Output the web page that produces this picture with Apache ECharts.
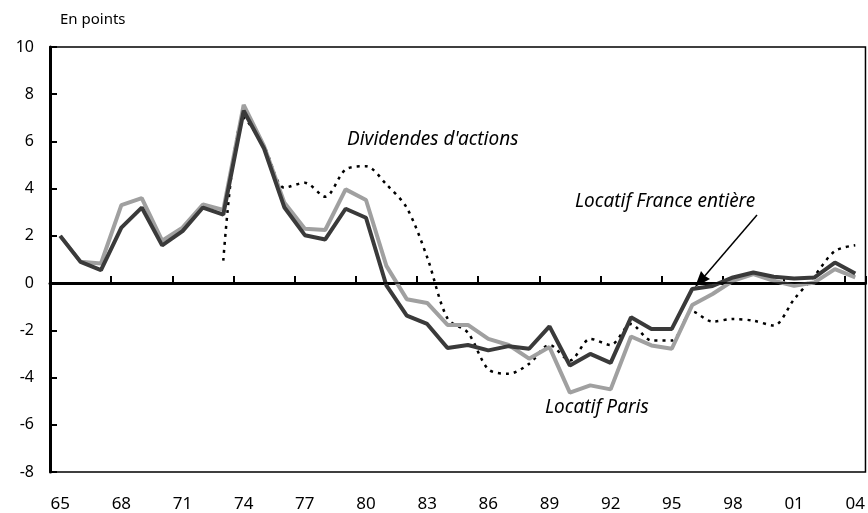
<!DOCTYPE html>
<html>
<head>
<meta charset="utf-8">
<script src="https://cdn.jsdelivr.net/npm/echarts@6/dist/echarts.min.js"></script>
<style>
  html, body { margin: 0; padding: 0; background: #fff; }
  #chart { width: 868px; height: 513px; }
</style>
</head>
<body>
<div id="chart"></div>
<script>
var years = ['65','66','67','68','69','70','71','72','73','74','75','76','77','78','79',
  '80','81','82','83','84','85','86','87','88','89','90','91','92','93','94',
  '95','96','97','98','99','00','01','02','03','04'];

// Locatif France entière
var franceEntiere = [2.0, 0.9, 0.55, 2.35, 3.2, 1.6, 2.2, 3.2, 2.9, 7.3, 5.7, 3.2, 2.03, 1.85, 3.15,
  2.77, -0.1, -1.38, -1.73, -2.75, -2.62, -2.85, -2.67, -2.78, -1.83, -3.49, -3.0, -3.38, -1.45, -1.94,
  -1.94, -0.25, -0.12, 0.24, 0.45, 0.27, 0.2, 0.24, 0.87, 0.41];

// Locatif Paris
var paris = [2.0, 0.9, 0.83, 3.3, 3.6, 1.8, 2.35, 3.33, 3.1, 7.55, 5.8, 3.4, 2.3, 2.25, 3.97,
  3.52, 0.73, -0.68, -0.84, -1.77, -1.77, -2.36, -2.62, -3.2, -2.71, -4.64, -4.33, -4.5, -2.26, -2.64,
  -2.78, -0.93, -0.46, 0.1, 0.38, 0.1, -0.11, 0.03, 0.59, 0.24];

// Dividendes d'actions (à partir de 1973)
var dividendes = [null, null, null, null, null, null, null, null, 0.95, 7.0, 5.8, 4.04, 4.25, 3.66, 4.81,
  4.95, 4.18, 3.19, 1.1, -1.5, -2.1, -3.65, -3.84, -3.42, -2.62, -3.28, -2.36, -2.62, -1.73, -2.43,
  -2.43, -1.2, -1.63, -1.52, -1.59, -1.8, -0.68, 0.31, 1.36, 1.6];

var yTicks = [-8, -6, -4, -2, 0, 2, 4, 6, 8, 10];

var chart = echarts.init(document.getElementById('chart'));
var font = 'Noto Sans';

var option = {
  animation: false,
  textStyle: { fontFamily: font },
  grid: {
    left: 50,
    right: 2,
    top: 47,
    bottom: 39,
    show: true,
    borderColor: '#000',
    borderWidth: 1.5
  },
  xAxis: {
    type: 'category',
    data: years,
    boundaryGap: true,
    axisLine: { show: true, lineStyle: { color: '#000', width: 3 } },
    axisTick: { show: true, inside: true, length: 7, interval: 2, lineStyle: { color: '#000', width: 2 } },
    axisLabel: { interval: 2, color: '#000', fontSize: 17, margin: 24, fontFamily: font },
    splitLine: { show: false }
  },
  yAxis: {
    type: 'value',
    min: yTicks[0],
    max: yTicks[yTicks.length - 1],
    interval: 2,
    axisLine: { show: true, lineStyle: { color: '#000', width: 3 } },
    axisTick: { show: true, inside: true, length: 7, lineStyle: { color: '#000', width: 2 } },
    axisLabel: { color: '#000', fontSize: 16, margin: 16, fontFamily: font },
    splitLine: { show: false }
  },
  graphic: [
    { type: 'text', left: 60, top: 12, style: { text: 'En points', font: '15px "Noto Sans"', fill: '#000' } },
    { type: 'text', left: 347, top: 130, style: { text: "Dividendes d'actions", font: 'italic 19px "Noto Sans"', fill: '#000' } },
    { type: 'text', left: 575, top: 192, style: { text: 'Locatif France entière', font: 'italic 19px "Noto Sans"', fill: '#000' } },
    { type: 'text', left: 545, top: 398, style: { text: 'Locatif Paris', font: 'italic 19px "Noto Sans"', fill: '#000' } },
    // flèche vers la courbe France entière
    { type: 'line', z: 100, shape: { x1: 757, y1: 215, x2: 703, y2: 278 }, style: { stroke: '#000', lineWidth: 1.5 } },
    { type: 'polygon', z: 100, shape: { points: [[695, 287], [710, 279], [705, 276], [701, 271]] }, style: { fill: '#000' } }
  ],
  series: [
    {
      name: "Dividendes d'actions",
      type: 'line',
      data: dividendes,
      smooth: 0.3,
      symbol: 'none',
      connectNulls: false,
      lineStyle: { color: '#000', width: 2.5, type: [3, 5] },
      z: 2,
      markLine: {
        silent: true,
        symbol: 'none',
        label: { show: false },
        lineStyle: { color: '#000', width: 1.5, type: 'solid' },
        data: [[{ coord: [years[0], 0] }, { coord: [years[years.length - 1], 0] }]]
      }
    },
    {
      name: 'Locatif Paris',
      type: 'line',
      data: paris,
      symbol: 'none',
      lineStyle: { color: '#a0a0a0', width: 4 },
      z: 3
    },
    {
      name: 'Locatif France entière',
      type: 'line',
      data: franceEntiere,
      symbol: 'none',
      lineStyle: { color: '#3a3a3a', width: 4 },
      z: 4
    }
  ]
};

chart.setOption(option);
</script>
</body>
</html>
